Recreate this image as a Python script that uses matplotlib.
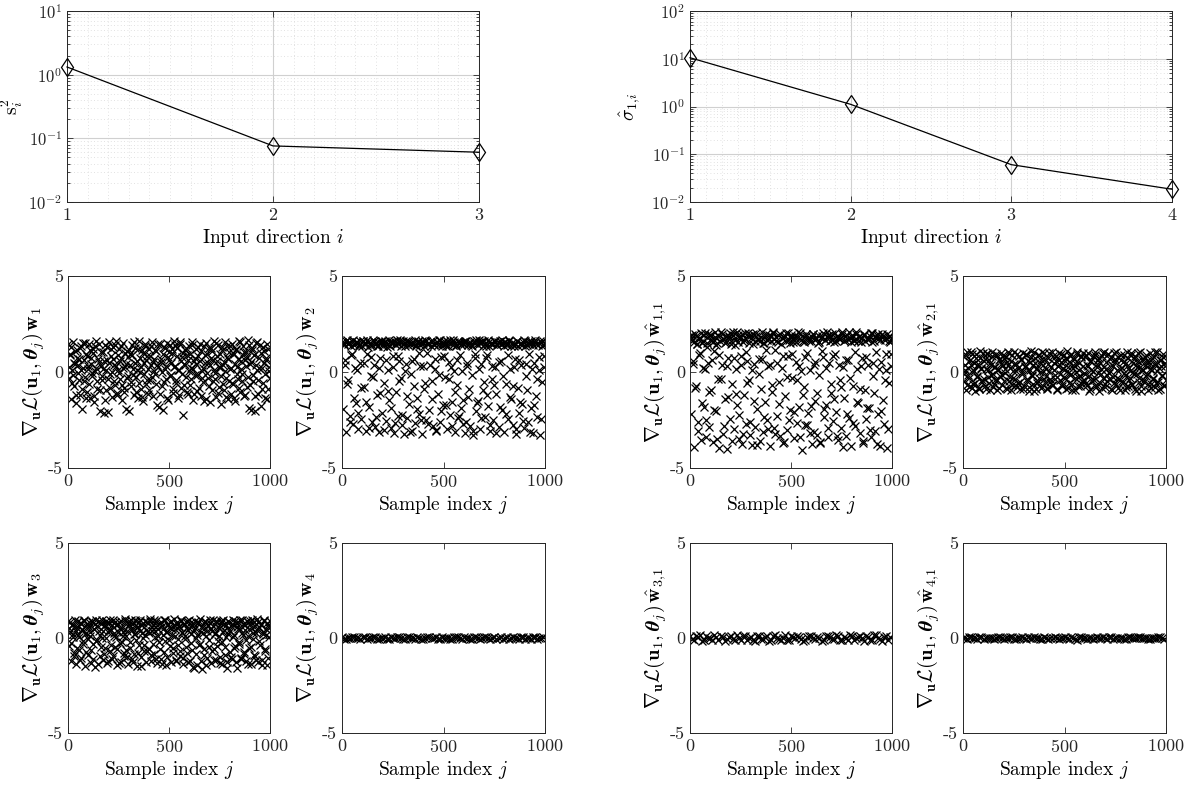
import numpy as np
import matplotlib
matplotlib.use("Agg")
import matplotlib.pyplot as plt
from matplotlib.ticker import LogLocator, NullFormatter, MultipleLocator

# --- fonts / style (LaTeX-like look) ---
plt.rcParams['font.family'] = 'serif'
plt.rcParams['font.serif'] = ['cmr10', 'DejaVu Serif']
plt.rcParams['mathtext.fontset'] = 'cm'
plt.rcParams['axes.unicode_minus'] = False
plt.rcParams['axes.formatter.use_mathtext'] = True

AX_COLOR = '#262626'

# --- top row: spectra of the input directions ---
dir_s = [1, 2, 3]
s_sq = [1.32, 0.076, 0.0605]

dir_sigma = [1, 2, 3, 4]
sigma_hat = [10.5, 1.11, 0.0605, 0.0185]

# --- projected gradients vs. sample index j (two interleaved passes) ---
idx_a = np.arange(1, 1001, 5)
idx_b = np.arange(3, 1001, 5)
idx_flat_a = np.arange(1, 1001, 20)
idx_flat_b = np.arange(11, 1001, 20)

grad_w1_a = [
    1.45, -0.32, 0.88, -1.41, 0.12, 1.58, -0.75, 0.41, -1.62, 1.12, -0.05, 0.67, -1.21, 1.36, -1.95, 0.23, -0.48, 1.51, 0.95, -1.05,
    0.31, 1.47, -1.38, 0.74, -0.21, 1.22, -1.55, 0.05, 1.60, -0.88, 0.52, -2.05, 1.02, -0.41, 0.18, -2.12, 1.39, -0.96, 0.63, -2.08,
    1.55, -0.12, 0.84, -1.29, 1.31, 0.37, -0.66, 1.64, -1.08, 0.09, 1.18, -0.35, 0.71, -1.44, 1.49, -0.81, 0.26, -1.93, 1.07, -0.19,
    -2.02, 0.93, -0.52, 1.41, 0.14, -1.19, 1.27, -0.27, 0.58, -1.36, 1.62, 0.02, -0.91, 1.15, -1.50, 0.45, 1.34, -0.62, 0.81, -1.12,
    1.21, -0.44, 0.36, 1.57, -1.27, 0.69, -0.09, 1.09, -1.71, 0.28, -1.83, 1.44, 0.53, -0.71, -1.98, 1.28, 0.17, -0.38, 1.53, -1.46,
    0.62, 1.43, -0.17, 0.98, -1.09, 1.59, 0.33, -0.58, 1.26, -1.33, 0.11, 1.48, -0.83, 0.76, -2.22, 0.44, 1.13, -0.24, 0.89, -1.17,
    1.37, -0.69, 0.21, 1.54, -1.48, 0.57, -0.15, 1.19, -0.98, 0.83, 1.45, -1.24, 0.07, -0.54, 1.33, 0.49, -1.39, 0.96, -0.33, 1.24,
    -1.57, 0.73, 1.11, -0.46, 1.63, -0.03, -1.31, 0.59, 1.42, -0.77, 0.24, -1.69, 1.29, 0.38, -0.94, 1.56, -0.29, 0.79, -1.42, 1.05,
    0.16, -1.13, 1.46, -0.61, 0.92, -1.52, 1.17, 0.27, -0.36, 1.61, -1.02, 0.55, -0.13, 1.38, -1.25, 0.64, 1.02, -0.79, 1.66, -1.88,
    0.42, -1.96, 1.25, -0.49, 0.86, -2.03, 1.52, 0.08, -1.16, 0.72, 1.40, -1.79, 0.19, -0.57, 1.08, -1.34, 0.61, 1.44, -0.86, 0.03,
]
grad_w1_b = [
    0.27, 0.95, 1.31, -0.58, -0.14, 0.49, 1.07, -1.18, 0.72, 0.36, -0.42, 1.25, 0.08, -0.87, 1.53, 0.61, -0.26, -1.33, 0.84, 0.15,
    -0.61, 1.13, 0.44, -0.07, 0.97, -1.24, 1.36, 0.22, -0.49, 0.68, 1.48, -0.93, 0.31, -0.19, 1.04, 0.57, -1.46, 0.12, 1.29, -0.34,
    0.48, -0.83, 1.19, 0.02, 0.66, -0.47, 1.42, 0.29, -1.22, 0.91, -0.03, 0.55, 1.37, -0.69, 0.19, -1.06, 1.01, 0.43, -0.31, 0.78,
    1.17, 0.34, -0.74, 0.87, -0.16, 1.58, 0.46, -1.02, 0.09, 1.21, -0.55, 0.73, 0.25, -1.28, 0.99, -0.08, 1.46, 0.62, -0.44, 0.18,
    -0.95, 0.82, 1.34, -0.27, 0.54, 0.04, 1.12, -0.63, 0.39, 1.47, -1.15, 0.67, -0.02, 0.93, -0.52, 1.24, 0.32, -1.37, 0.76, 1.03,
    -0.22, 0.47, 1.18, -0.89, 0.26, 1.39, -0.41, 0.85, 0.13, -1.21, 1.55, 0.58, -0.11, 0.97, -0.66, 0.35, 1.27, -1.04, 0.61, 0.05,
    0.92, -0.37, 1.41, 0.18, -1.12, 0.74, 0.41, -0.18, 1.28, -0.84, 0.56, 1.09, -0.29, 0.23, -1.49, 0.88, 1.52, -0.06, 0.45, -0.72,
    0.37, 1.26, -0.92, 0.63, 0.11, -0.39, 1.49, 0.81, -1.07, 0.28, 0.94, -0.23, 1.15, -0.64, 0.52, 0.07, -1.29, 1.35, 0.69, -0.48,
    1.33, 0.21, -0.56, 0.98, -1.34, 0.43, 1.21, -0.12, 0.67, -0.81, 1.58, 0.14, -0.45, 0.89, 1.06, -1.19, 0.32, 0.77, -0.25, 1.43,
    -0.67, 0.53, 1.12, -0.18, 0.86, -1.27, 0.34, 1.55, -0.44, 0.19, 0.99, -0.91, 1.31, 0.47, -0.09, 0.71, -1.41, 1.19, 0.26, -0.33,
]

grad_w2_a = [
    1.58, -1.92, 1.47, 0.62, -3.15, 1.66, -0.41, 1.52, -2.31, 0.88, 1.61, -2.72, 1.43, 0.21, -1.64, 1.55, -2.98, 1.35, 0.47, -2.45,
    1.62, -0.78, 1.49, -3.05, 0.94, 1.57, -1.83, 1.41, -0.22, -2.61, 1.65, 0.36, -2.88, 1.53, -1.21, 1.38, -3.12, 0.71, 1.60, -2.12,
    1.46, -0.56, 1.63, -2.54, 1.32, 0.13, -1.47, 1.58, -2.93, 1.51, 0.82, -3.18, 1.44, -1.05, 1.67, -2.27, 0.55, 1.54, -0.33, -2.76,
    1.59, -3.21, 1.37, 0.41, -2.38, 1.64, -1.69, 1.48, -0.09, -3.08, 1.56, 0.67, -2.66, 1.42, -1.38, 1.61, -2.19, 0.29, 1.50, -3.24,
    1.53, -0.87, 1.66, -2.49, 0.98, 1.45, -1.96, 1.60, -0.47, -2.83, 1.39, 0.18, -3.02, 1.57, -1.12, 1.68, -2.58, 0.77, 1.47, -1.74,
    1.62, -0.28, 1.36, -2.95, 1.55, 0.52, -2.24, 1.49, -1.57, 1.65, 0.06, -3.11, 1.43, -0.69, -2.41, 1.58, 0.91, -1.88, 1.51, -2.69,
    1.44, -3.19, 1.63, 0.33, -1.29, 1.52, -2.81, 1.40, -0.14, -3.26, 1.59, 0.74, -2.03, 1.46, -1.51, 1.67, -2.97, 0.44, 1.54, -0.95,
    1.61, -2.33, 1.38, 0.86, -1.78, 1.56, -3.07, 1.48, -0.38, -2.52, 1.64, 0.25, -1.16, 1.42, -2.86, 1.59, 0.58, -1.99, 1.50, -3.14,
    1.57, -0.63, 1.45, -2.44, 1.68, 0.15, -1.41, 1.53, -2.74, 1.37, 0.69, -3.23, 1.62, -0.81, -2.15, 1.47, 0.38, -1.67, 1.55, -2.91,
    1.64, -0.19, 1.41, -2.62, 0.96, 1.58, -1.86, 1.49, -3.17, 0.49, 1.66, -1.24, -2.36, 1.43, 0.11, -3.28, 1.56, -0.52, 1.39, 0.83,
]
grad_w2_b = [
    1.52, 1.39, 0.35, 1.61, -0.62, 1.46, 1.57, -2.58, 1.34, 0.93, 1.65, -1.35, 1.48, 1.55, 0.12, -2.14, 1.42, 1.63, -0.84, 1.37,
    1.59, 0.48, 1.44, -1.58, 1.66, 1.31, -2.91, 1.53, 0.76, 1.40, -0.28, 1.62, 1.47, -2.36, 1.35, 1.58, 0.19, -1.09, 1.51, 1.64,
    1.33, -3.02, 1.56, 0.63, 1.45, -0.97, 1.68, 1.38, -1.86, 1.54, 0.28, 1.61, -2.67, 1.43, 1.49, 0.85, -0.45, 1.66, 1.36, -2.22,
    1.47, 0.04, 1.63, -1.25, 1.39, 1.57, -3.14, 1.50, 0.57, 1.44, -0.71, 1.67, 1.34, -1.92, 1.55, 0.98, 1.41, -2.49, 1.60, 0.31,
    1.38, -0.55, 1.64, 1.45, -2.71, 1.53, 0.39, 1.36, -1.41, 1.62, 1.48, 0.69, -3.09, 1.57, 1.40, -0.17, 1.65, -2.05, 1.33, 1.52,
    0.81, 1.46, -1.73, 1.59, 1.37, -0.35, 1.68, 0.24, -2.83, 1.43, 1.56, -1.02, 1.35, 0.62, 1.61, -2.31, 1.49, 1.39, 0.07, -1.47,
    1.55, 1.63, -2.59, 0.45, 1.42, -0.88, 1.58, 1.34, -3.06, 1.50, 0.92, 1.66, -1.63, 1.41, 0.16, 1.54, -2.42, 1.60, 1.38, -0.51,
    1.44, 0.71, -1.19, 1.65, 1.36, -2.77, 1.52, 0.33, 1.47, -0.66, 1.62, -3.20, 1.39, 1.57, 0.52, -1.81, 1.45, 1.67, -0.23, 1.33,
    1.58, -2.18, 1.41, 0.88, 1.64, -1.32, 1.37, 1.53, -0.74, 0.27, 1.46, -2.96, 1.61, 1.35, 0.64, -1.54, 1.50, 1.43, -2.53, 1.66,
    1.34, 0.42, -0.92, 1.56, 1.48, -3.10, 1.62, 0.15, 1.39, -1.71, 1.54, 1.45, -0.37, 0.79, 1.63, -2.45, 1.36, 1.59, 0.26, 1.47,
]

grad_w3_a = [
    0.88, -0.42, 0.31, -1.21, 0.67, 0.05, -0.79, 0.94, -1.38, 0.52, 0.18, -0.63, 0.79, -1.05, 0.41, -0.17, 0.91, -1.45, 0.24, 0.72,
    -0.88, 0.59, 0.13, -1.29, 0.84, -0.34, 0.47, -1.52, 0.96, -0.09, 0.36, -0.97, 0.75, 0.02, -1.17, 0.62, -0.55, 0.89, -1.33, 0.29,
    0.81, -0.71, 0.44, -1.09, 0.97, 0.11, -0.48, 0.69, -1.41, 0.33, 0.86, -0.26, -1.24, 0.55, 0.08, -0.93, 0.92, -0.61, 0.38, -1.36,
    0.74, -0.19, 0.93, -1.13, 0.46, -0.83, 0.21, 0.87, -1.47, 0.58, -0.38, 0.95, -1.01, 0.27, 0.77, -0.68, 0.14, -1.26, 0.83, 0.39,
    -0.57, 0.99, -1.19, 0.35, 0.71, -0.86, 0.06, 0.90, -1.34, 0.49, -0.23, 0.80, -1.08, 0.63, 0.17, -0.74, 0.94, -1.43, 0.32, 0.68,
    -0.11, 0.85, -1.27, 0.45, -0.51, 0.98, 0.09, -1.15, 0.72, -0.35, 0.57, -0.96, 0.89, 0.26, -1.39, 0.66, -0.07, 0.82, -0.80, 0.42,
    0.95, -1.22, 0.19, -0.64, 0.78, -1.58, 0.51, 0.01, -1.44, 0.86, -0.29, 0.34, -1.62, 0.70, -0.90, 0.92, 0.12, -1.07, 0.61, -0.45,
    0.79, -1.31, 0.37, 0.97, -0.58, 0.22, -1.18, 0.85, -0.15, 0.53, -0.99, 0.90, -1.37, 0.30, 0.73, -0.47, 0.04, -1.25, 0.88, 0.43,
    -0.72, 0.64, -1.11, 0.93, 0.16, -0.44, 0.81, -1.60, 0.48, -0.21, 0.96, -1.03, 0.28, 0.75, -0.85, 0.40, -1.20, 0.87, 0.10, -0.53,
    0.91, -1.35, 0.54, -0.06, 0.83, -0.94, 0.25, 0.98, -1.28, 0.60, -0.39, 0.76, -1.14, 0.20, 0.89, -0.66, 0.47, -1.40, 0.70, 0.03,
]
grad_w3_b = [
    0.55, 0.86, -0.27, 0.71, 0.19, -0.93, 0.63, 0.38, -0.51, 0.92, 0.07, -1.16, 0.79, 0.45, -0.33, 0.96, 0.23, -0.72, 0.58, -0.05,
    0.82, 0.31, -0.64, 0.91, -1.08, 0.47, 0.74, -0.18, 0.62, -1.39, 0.88, 0.15, -0.45, 0.97, 0.36, -0.85, 0.69, -0.02, 0.80, -1.22,
    0.41, 0.93, -0.36, 0.67, -0.97, 0.27, 0.85, 0.04, -0.59, 0.76, -1.31, 0.52, 0.90, -0.22, 0.33, -0.78, 0.98, 0.12, -1.02, 0.64,
    0.89, -0.53, 0.48, 0.73, -1.25, 0.21, 0.95, -0.12, 0.57, -0.81, 0.84, 0.35, -1.46, 0.66, 0.02, -0.39, 0.92, 0.44, -0.69, 0.78,
    0.25, 0.87, -0.88, 0.60, -0.31, 0.96, 0.39, -1.12, 0.70, 0.13, -0.56, 0.83, -1.35, 0.50, 0.94, -0.15, 0.29, -0.99, 0.76, 0.58,
    -0.41, 0.92, 0.18, -0.77, 0.68, 0.46, -1.20, 0.86, -0.03, 0.61, -0.66, 0.97, 0.30, -1.05, 0.74, 0.08, -0.47, 0.89, -1.28, 0.53,
    0.81, -0.24, 0.64, -1.50, 0.43, 0.90, -0.83, 0.15, 0.77, -0.37, 0.99, -1.19, 0.52, 0.26, -0.60, 0.85, -1.41, 0.35, 0.71, -0.13,
    0.94, 0.49, -0.70, 0.63, -1.14, 0.28, 0.87, -0.43, 0.56, 0.10, -1.33, 0.79, -0.20, 0.93, 0.40, -0.89, 0.67, -1.56, 0.22, 0.84,
    0.37, -0.98, 0.72, 0.06, -0.52, 0.91, -1.24, 0.59, 0.83, -0.32, 0.45, -1.09, 0.97, 0.17, -0.75, 0.66, -0.08, 0.88, -1.37, 0.50,
    0.75, -0.46, 0.97, 0.24, -0.90, 0.62, -1.17, 0.41, 0.86, -0.16, 0.69, -1.44, 0.32, 0.95, -0.58, 0.14, 0.80, -1.03, 0.54, 0.90,
]

grad_w4_a = [
    0.03, -0.05, 0.01, 0.06, -0.02, 0.04, -0.06, 0.00, 0.05, -0.03, 0.02, -0.04, 0.06, -0.01, 0.03, -0.06, 0.04, 0.01, -0.05, 0.02,
    -0.03, 0.05, -0.01, 0.06, -0.04, 0.02, 0.00, -0.06, 0.04, -0.02, 0.05, 0.01, -0.05, 0.03, -0.03, 0.06, -0.01, 0.02, -0.04, 0.04,
    0.00, -0.06, 0.05, -0.02, 0.03, -0.05, 0.01, 0.06, -0.03, 0.02,
]
grad_w4_b = [
    -0.04, 0.02, 0.05, -0.01, -0.06, 0.03, 0.00, 0.06, -0.03, 0.01, 0.04, -0.05, -0.02, 0.05, 0.02, -0.04, 0.06, -0.01, 0.03, -0.06,
    0.01, 0.04, -0.02, -0.05, 0.06, 0.00, -0.03, 0.03, 0.05, -0.04, 0.02, -0.06, 0.04, 0.01, -0.02, 0.05, -0.05, 0.03, 0.00, -0.03,
    0.06, -0.01, 0.02, -0.04, 0.05, 0.01, -0.06, 0.03, -0.02, 0.04,
]

grad_wh11_a = [
    1.85, -2.21, 1.62, 0.58, -3.92, 1.97, -0.71, 1.44, -2.63, 0.91, 1.78, -3.55, 1.53, 0.22, -1.84, 2.02, -3.38, 1.31, 0.47, -2.88,
    1.91, -0.92, 1.67, -3.67, 1.08, 1.82, -2.05, 1.49, -0.35, -3.96, 2.06, 0.36, -3.21, 1.73, -1.43, 1.56, -4.02, 0.73, 1.88, -2.47,
    1.64, -0.62, 2.08, -2.97, 1.39, 0.14, -1.71, 1.93, -3.48, 1.77, 0.81, -3.74, 1.58, -1.19, 2.01, -2.72, 0.55, 1.86, -0.44, -3.29,
    1.95, -3.81, 1.46, 0.43, -2.84, 2.04, -1.92, 1.69, -0.12, -3.59, 1.81, 0.66, -3.13, 1.52, -1.58, 1.98, -2.51, 0.31, 1.74, -3.86,
    1.87, -1.02, 2.07, -2.94, 1.12, 1.61, -2.29, 1.94, -0.53, -3.35, 1.48, 0.19, -3.71, 1.84, -1.27, 2.03, -3.04, 0.85, 1.66, -1.97,
    1.92, -0.31, 1.57, -3.44, 1.76, 0.51, -2.68, 1.83, -1.81, 2.05, 0.07, -4.08, 1.63, -0.79, -2.78, 1.89, 1.01, -2.16, 1.71, -3.17,
    1.59, -3.77, 1.96, 0.34, -1.49, 1.79, -3.26, 1.51, -0.17, -3.63, 1.90, 0.78, -2.36, 1.68, -1.74, 2.09, -3.41, 0.45, 1.80, -1.11,
    1.99, -2.57, 1.55, 0.92, -2.08, 1.86, -3.53, 1.72, -0.41, -2.92, 2.10, 0.26, -1.36, 1.65, -3.31, 1.93, 0.61, -2.39, 1.78, -3.84,
    1.84, -0.74, 1.62, -2.81, 2.06, 0.16, -1.63, 1.87, -3.19, 1.54, 0.72, -3.69, 1.97, -0.96, -2.44, 1.70, 0.39, -1.89, 1.85, -3.36,
    2.01, -0.23, 1.60, -3.07, 1.05, 1.94, -2.17, 1.75, -3.88, 0.53, 1.98, -1.46, -2.73, 1.67, 0.12, -3.94, 1.83, -0.58, 1.58, 0.94,
]
grad_wh11_b = [
    1.72, 1.95, 0.41, 1.58, -0.83, 1.88, 1.46, -3.08, 1.79, 0.97, 2.03, -1.62, 1.64, 1.91, 0.18, -2.52, 1.53, 1.99, -1.03, 1.69,
    1.94, 0.63, 1.57, -1.97, 2.07, 1.41, -3.47, 1.85, 0.88, 1.62, -0.37, 1.97, 1.74, -2.83, 1.51, 1.89, 0.29, -1.28, 1.81, 2.05,
    1.48, -3.61, 1.92, 0.74, 1.66, -1.16, 2.09, 1.55, -2.26, 1.83, 0.35, 1.98, -3.22, 1.67, 1.76, 1.04, -0.56, 2.02, 1.52, -2.61,
    1.77, 0.09, 1.96, -1.51, 1.59, 1.86, -3.79, 1.71, 0.69, 1.63, -0.89, 2.06, 1.49, -2.33, 1.82, 1.14, 1.68, -2.99, 1.93, 0.38,
    1.61, -0.66, 2.01, 1.73, -3.25, 1.84, 0.46, 1.54, -1.69, 1.96, 1.78, 0.82, -3.66, 1.87, 1.62, -0.24, 2.04, -2.48, 1.50, 1.81,
    0.95, 1.74, -2.06, 1.90, 1.56, -0.43, 2.08, 0.29, -3.41, 1.69, 1.85, -1.22, 1.58, 0.76, 1.97, -2.77, 1.75, 1.63, 0.11, -1.76,
    1.83, 1.99, -3.12, 0.53, 1.70, -1.07, 1.92, 1.57, -3.71, 1.78, 1.09, 2.03, -1.94, 1.65, 0.21, 1.86, -2.91, 1.95, 1.61, -0.62,
    1.68, 0.84, -1.41, 2.02, 1.59, -3.33, 1.81, 0.39, 1.73, -0.78, 1.98, -3.90, 1.64, 1.89, 0.61, -2.18, 1.72, 2.07, -0.29, 1.55,
    1.91, -2.64, 1.67, 1.03, 1.99, -1.58, 1.60, 1.84, -0.87, 0.33, 1.76, -3.57, 1.94, 1.63, 0.77, -1.85, 1.79, 1.70, -3.03, 2.05,
    1.57, 0.49, -1.11, 1.88, 1.77, -3.74, 1.96, 0.18, 1.66, -2.03, 1.86, 1.74, -0.44, 0.93, 1.97, -2.95, 1.62, 1.90, 0.31, 1.73,
]

grad_wh21_a = [
    0.82, -0.45, 0.13, -0.92, 1.04, -0.18, 0.57, -0.71, 0.34, 0.96, -0.63, 0.05, -0.98, 0.71, -0.27, 0.44, -0.84, 1.08, 0.21, -0.52,
    -0.36, 0.67, -0.88, 0.92, 0.09, -0.59, 0.48, -0.14, 1.02, -0.77, 0.28, -0.41, 0.85, -0.95, 0.16, 0.61, -0.23, 0.99, -0.68, 0.38,
    0.74, -0.06, -0.81, 0.52, 1.06, -0.49, 0.19, -0.93, 0.88, -0.31, 0.41, -0.67, 0.03, 0.95, -0.56, 0.26, -0.86, 0.69, -0.11, 1.01,
    -0.74, 0.31, 0.91, -0.38, 0.58, -0.97, 0.12, 0.79, -0.21, -0.62, 1.05, 0.45, -0.89, 0.23, -0.46, 0.87, -0.02, 0.64, -0.79, 0.36,
    0.97, -0.53, 0.18, -0.82, 0.73, 0.07, -0.35, 1.03, -0.66, 0.49, -0.15, 0.83, -0.91, 0.29, 0.62, -0.44, 0.94, -0.72, 0.14, -0.27,
    0.55, -0.87, 1.07, 0.24, -0.58, 0.81, -0.09, -0.96, 0.37, 0.68, -0.33, 0.02, 0.93, -0.75, 0.46, -0.19, 0.76, -0.61, 1.00, -0.42,
    -0.13, 0.89, -0.69, 0.33, -0.99, 0.59, 0.11, -0.48, 0.84, -0.26, 1.04, -0.78, 0.42, -0.04, 0.72, -0.57, 0.17, -0.85, 0.98, 0.27,
    -0.64, 0.51, -0.17, 0.95, -0.39, 0.06, 0.78, -0.92, 0.32, -0.55, 0.66, 1.02, -0.29, -0.83, 0.15, 0.86, -0.47, 0.53, -0.07, -0.94,
    0.47, 1.05, -0.73, 0.22, -0.32, 0.90, -0.60, 0.01, 0.70, -0.88, 0.39, -0.12, 0.97, -0.50, 0.25, -0.97, 0.63, 0.10, -0.40, 0.80,
    -0.22, 0.58, -0.95, 0.35, 0.99, -0.65, 0.08, -0.30, 0.77, -0.80, 0.43, 1.06, -0.54, 0.20, -0.90, 0.65, -0.16, 0.92, -0.70, 0.30,
]
grad_wh21_b = [
    -0.12, 0.39, 0.87, -0.66, 0.22, -0.33, 0.61, 1.05, -0.85, 0.08, 0.47, -0.57, 0.93, -0.19, 0.30, -0.90, 0.72, 0.14, -0.44, 0.98,
    0.55, -0.72, 0.18, 1.01, -0.28, 0.64, -0.96, 0.37, 0.81, -0.08, -0.61, 0.26, 0.96, -0.40, 0.11, -0.83, 0.68, 0.43, -0.17, 0.89,
    -0.49, 0.15, 0.76, -0.91, 0.34, 0.99, -0.24, 0.57, -0.69, 0.05, 1.04, -0.37, 0.42, -0.80, 0.20, 0.84, -0.53, 0.63, -0.02, -0.88,
    0.28, 0.92, -0.46, 0.09, -0.76, 0.53, 1.07, -0.14, 0.36, -0.98, 0.71, 0.17, -0.58, 0.90, -0.29, 0.48, -0.84, 1.02, 0.04, -0.35,
    0.66, -0.20, -0.89, 0.44, 0.97, -0.52, 0.27, -0.70, 0.81, 0.10, -0.38, 0.59, -0.95, 0.32, 1.00, -0.11, 0.54, -0.63, 0.19, 0.86,
    -0.31, 0.74, 0.06, -0.82, 0.50, -0.15, 0.95, -0.60, 0.23, 0.67, -0.93, 0.40, 1.03, -0.26, 0.13, -0.73, 0.85, -0.45, 0.31, -0.05,
    0.79, -0.55, 0.35, 0.99, -0.21, -0.86, 0.58, 0.07, -0.42, 0.91, -0.67, 0.24, 0.62, -0.99, 0.45, -0.10, 0.83, -0.32, 1.06, -0.78,
    0.16, -0.47, 0.94, -0.03, 0.69, -0.87, 0.38, -0.25, 1.00, 0.51, -0.64, 0.12, 0.77, -0.36, -0.92, 0.60, 0.21, -0.54, 0.88, -0.16,
    -0.80, 0.33, 0.71, -0.43, 0.03, 0.97, -0.68, 0.46, -0.13, 0.84, -0.97, 0.25, 0.56, -0.30, 1.04, -0.75, 0.10, 0.66, -0.50, 0.37,
    0.90, -0.09, -0.62, 0.52, 0.18, -0.84, 0.75, -0.34, 0.41, 1.02, -0.56, 0.06, -0.94, 0.65, 0.29, -0.23, 0.80, -0.71, 0.49, -0.41,
]

grad_wh31_a = [
    0.12, -0.08, 0.03, -0.14, 0.09, -0.02, 0.15, -0.11, 0.06, -0.05, 0.13, -0.13, 0.01, 0.10, -0.09, 0.04, -0.15, 0.11, -0.03, 0.08,
    -0.12, 0.14, -0.06, 0.02, -0.10, 0.12, -0.01, 0.07, -0.14, 0.05, 0.13, -0.07, 0.00, -0.12, 0.10, -0.04, 0.15, -0.09, 0.03, -0.13,
    0.09, -0.02, 0.11, -0.15, 0.06, -0.08, 0.14, -0.05, 0.04, -0.11,
]
grad_wh31_b = [
    -0.06, 0.10, 0.14, -0.13, 0.02, -0.09, 0.07, 0.12, -0.15, 0.04, -0.03, 0.15, -0.10, 0.08, 0.01, -0.12, 0.13, -0.05, 0.06, -0.14,
    0.11, 0.00, -0.08, 0.14, -0.11, 0.05, 0.09, -0.04, -0.13, 0.12, -0.01, 0.07, -0.15, 0.10, 0.03, -0.07, 0.13, -0.10, 0.02, 0.15,
    -0.12, 0.06, -0.02, 0.11, -0.09, 0.14, 0.00, -0.14, 0.08, 0.04,
]

grad_wh41_a = [
    0.02, -0.03, 0.04, -0.01, 0.03, -0.04, 0.01, 0.02, -0.02, 0.04, -0.03, 0.00, 0.03, -0.04, 0.02, -0.01, 0.04, -0.02, 0.01, -0.03,
    0.03, -0.04, 0.02, 0.00, -0.02, 0.04, -0.03, 0.01, -0.12, 0.03, -0.01, 0.02, -0.04, 0.04, -0.02, 0.01, 0.03, -0.03, 0.00, 0.02,
    -0.04, 0.03, -0.01, 0.04, -0.02, 0.01, -0.03, 0.02, 0.03, -0.01,
]
grad_wh41_b = [
    -0.02, 0.03, 0.01, -0.04, 0.04, -0.01, 0.02, -0.03, 0.03, 0.00, -0.02, 0.04, -0.04, 0.01, 0.03, -0.03, 0.02, 0.04, -0.01, -0.04,
    0.02, 0.00, 0.04, -0.03, 0.01, -0.02, 0.03, -0.04, 0.04, 0.02, -0.03, 0.00, 0.01, -0.02, 0.04, -0.04, 0.03, 0.02, -0.01, -0.03,
    0.04, 0.00, -0.02, 0.03, 0.01, -0.04, 0.02, -0.01, 0.04, -0.03,
]

grad_prefix = r'\nabla_{\mathbf{u}}\mathcal{L}(\mathbf{u}_1,\mathbfit{\theta}_j)\,'


def style_axes(ax, labelsize=13):
    for sp in ax.spines.values():
        sp.set_color(AX_COLOR)
        sp.set_linewidth(0.7)
    ax.tick_params(which='both', direction='in', top=True, right=True,
                   colors=AX_COLOR, labelsize=labelsize, width=0.6)
    ax.tick_params(which='major', length=4)
    ax.tick_params(which='minor', length=2)


def spectrum_plot(ax, xs, ys, ylim, ylabel, label_x):
    ax.semilogy(xs, ys, color='black', lw=0.9, marker='d', ms=9.5,
                mfc='none', mec='black', mew=0.9, clip_on=False, zorder=3)
    ax.set_xlim(xs[0], xs[-1])
    ax.set_ylim(*ylim)
    ax.set_xticks(xs)
    ax.xaxis.set_minor_locator(MultipleLocator(0.1))
    ax.yaxis.set_major_locator(LogLocator(base=10, numticks=10))
    ax.yaxis.set_minor_locator(LogLocator(base=10, subs=np.arange(2, 10), numticks=20))
    ax.yaxis.set_minor_formatter(NullFormatter())
    ax.grid(True, which='major', color='#d0d0d0', lw=0.8, ls='-')
    ax.grid(True, which='minor', color='#d8d8d8', lw=0.6, ls=(0, (1, 3)))
    ax.set_axisbelow(True)
    style_axes(ax, labelsize=12)
    ax.tick_params(axis='x', which='minor', length=0)
    ax.tick_params(axis='x', labelsize=13)
    ax.set_xlabel(r'Input direction $i$', fontsize=14, labelpad=3)
    ax.set_ylabel(ylabel, fontsize=14)
    ax.yaxis.set_label_coords(label_x, 0.5)


def grad_plot(ax, xs, ys, vec):
    ax.plot(xs, ys, ls='none', marker='x', ms=6, mew=0.9, color='black')
    ax.set_xlim(0, 1000)
    ax.set_ylim(-5, 5)
    ax.set_xticks([0, 500, 1000])
    ax.set_yticks([-5, 0, 5], labels=['-5', '0', '5'])
    style_axes(ax)
    ax.set_xlabel(r'Sample index $j$', fontsize=14, labelpad=3)
    ax.set_ylabel('$' + grad_prefix + vec + '$', fontsize=14.5, labelpad=1)


fig = plt.figure(figsize=(11.92, 7.88), dpi=100)
W, H = 1192.0, 788.0


def add_axes(x0, x1, y0, y1):
    return fig.add_axes([x0 / W, 1 - y1 / H, (x1 - x0) / W, (y1 - y0) / H])


ax_s = add_axes(67, 479, 11, 202)
spectrum_plot(ax_s, dir_s, s_sq, (1e-2, 1e1), r'$\mathrm{s}_i^2$', -0.103)

ax_sig = add_axes(690, 1172, 11, 202)
spectrum_plot(ax_sig, dir_sigma, sigma_hat, (1e-2, 1e2), r'$\hat{\sigma}_{1,\!i}$', -0.097)

cols = [(68, 270), (342, 545), (690, 892), (963, 1166)]
row_mid = (276, 468)
row_bot = (543, 733)

dense_x = np.concatenate([idx_a, idx_b])
flat_x = np.concatenate([idx_flat_a, idx_flat_b])

panels = [
    (cols[0], row_mid, dense_x, grad_w1_a + grad_w1_b, r'\mathbf{w}_1'),
    (cols[1], row_mid, dense_x, grad_w2_a + grad_w2_b, r'\mathbf{w}_2'),
    (cols[2], row_mid, dense_x, grad_wh11_a + grad_wh11_b, r'\hat{\mathbf{w}}_{1,\!1}'),
    (cols[3], row_mid, dense_x, grad_wh21_a + grad_wh21_b, r'\hat{\mathbf{w}}_{2,\!1}'),
    (cols[0], row_bot, dense_x, grad_w3_a + grad_w3_b, r'\mathbf{w}_3'),
    (cols[1], row_bot, flat_x, grad_w4_a + grad_w4_b, r'\mathbf{w}_4'),
    (cols[2], row_bot, flat_x, grad_wh31_a + grad_wh31_b, r'\hat{\mathbf{w}}_{3,\!1}'),
    (cols[3], row_bot, flat_x, grad_wh41_a + grad_wh41_b, r'\hat{\mathbf{w}}_{4,\!1}'),
]

for (cx0, cx1), (ry0, ry1), xs, ys, vec in panels:
    ax = add_axes(cx0, cx1, ry0, ry1)
    grad_plot(ax, xs, ys, vec)

fig.savefig('out.png', dpi=100)
